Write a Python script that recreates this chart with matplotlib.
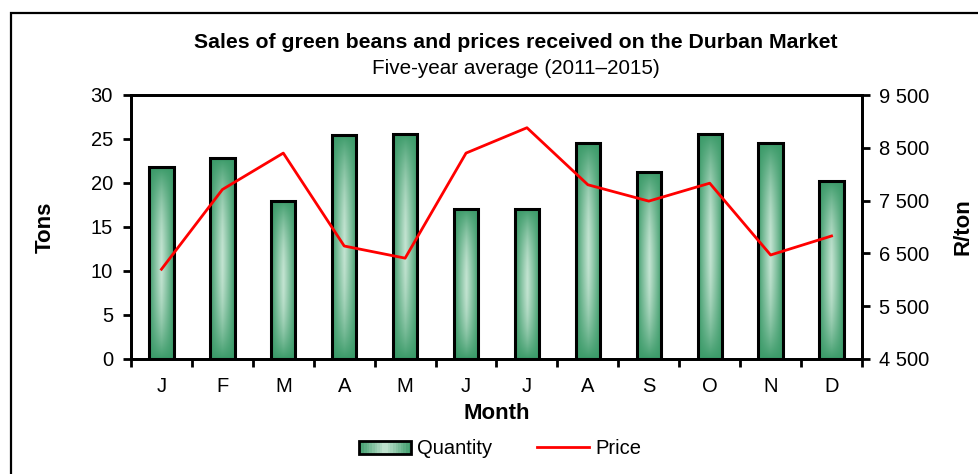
import numpy as np
import matplotlib
matplotlib.use("Agg")
import matplotlib.pyplot as plt
from matplotlib.patches import Rectangle
from matplotlib.lines import Line2D
from matplotlib.legend_handler import HandlerBase
from matplotlib.colors import LinearSegmentedColormap

plt.rcParams["font.family"] = ["Liberation Sans", "DejaVu Sans"]

months = ["J", "F", "M", "A", "M", "J", "J", "A", "S", "O", "N", "D"]
quantity = [21.8, 22.8, 18.0, 25.5, 25.6, 17.1, 17.1, 24.5, 21.3, 25.6, 24.5, 20.2]
price = [6200, 7710, 8400, 6640, 6410, 8400, 8880, 7800, 7490, 7830, 6470, 6830]
tons_ticks = [0, 5, 10, 15, 20, 25, 30]
price_ticks = [4500, 5500, 6500, 7500, 8500, 9500]
price_labels = ["4 500", "5 500", "6 500", "7 500", "8 500", "9 500"]

DARK = "#3a9a68"
LIGHT = "#c4e4d2"
cmap = LinearSegmentedColormap.from_list("beans", [DARK, LIGHT])


def bar_gradient(n=64):
    gx = 1 - np.abs(np.linspace(-1, 1, n))
    gy = 1 - np.abs(np.linspace(-1, 1, 4 * n)) ** 2
    return np.outer(gy, gx) ** 0.9


class GradientHandler(HandlerBase):
    def create_artists(self, legend, orig_handle, xdescent, ydescent, width, height, fontsize, trans):
        h = height * 0.95
        y0 = -ydescent + (height - h) / 2
        steps = 20
        parts = []
        for i in range(steps):
            t = 1 - abs((i + 0.5) / steps * 2 - 1)
            parts.append(Rectangle((-xdescent + width * i / steps, y0), width / steps, h,
                                   facecolor=cmap(t), edgecolor="none", transform=trans))
        parts.append(Rectangle((-xdescent, y0), width, h, facecolor="none",
                               edgecolor="black", lw=2, transform=trans))
        return parts


fig = plt.figure(figsize=(9.79, 4.74), dpi=100)
ax = fig.add_axes([131 / 979, 1 - 359 / 474, (862 - 131) / 979, (359 - 95) / 474])

x = np.arange(len(months))
width = 0.4
grad = bar_gradient()
for xi, q in zip(x, quantity):
    ax.imshow(grad, extent=[xi - width / 2, xi + width / 2, 0, q], aspect="auto",
              cmap=cmap, vmin=0, vmax=1, zorder=2, interpolation="bilinear")
bars = ax.bar(x, quantity, width, facecolor="none", edgecolor="black", linewidth=2.2, zorder=3)

ax.set_xlim(-0.5, len(months) - 0.5)
ax.set_ylim(0, 30)
ax.set_yticks(tons_ticks)
ax.set_xticks(x)
ax.set_xticklabels(months)
ax.set_xticks(np.arange(-0.5, len(months)), minor=True)
ax.tick_params(axis="x", which="major", length=0, labelsize=14.5, pad=13)
ax.tick_params(axis="x", which="minor", length=6, width=2, direction="out")
ax.tick_params(axis="y", length=6, width=2, direction="out", labelsize=14.5, pad=7)
for s in ax.spines.values():
    s.set_linewidth(2)
ax.set_ylabel("Tons", fontsize=16, fontweight="bold", labelpad=25)
ax.set_xlabel("Month", fontsize=16, fontweight="bold", labelpad=5)

ax2 = ax.twinx()
ax2.plot(x, price, color="red", lw=2, zorder=4)
ax2.set_ylim(4500, 9500)
ax2.set_yticks(price_ticks)
ax2.set_yticklabels(price_labels)
ax2.tick_params(axis="y", length=6, width=2, direction="out", labelsize=14.5, pad=6)
for s in ax2.spines.values():
    s.set_linewidth(2)
ax2.set_ylabel("R/ton", fontsize=16, fontweight="bold", labelpad=17)

fig.text(516 / 979, 1 - 43 / 474, "Sales of green beans and prices received on the Durban Market",
         ha="center", va="center", fontsize=15.3, fontweight="bold")
fig.text(516 / 979, 1 - 68 / 474, "Five-year average (2011\u20132015)",
         ha="center", va="center", fontsize=14.9)

qty_handle = Rectangle((0, 0), 1, 1)
price_handle = Line2D([], [], color="red", lw=2)
fig.legend([qty_handle, price_handle], ["Quantity", "Price"],
           handler_map={Rectangle: GradientHandler()},
           loc="center", bbox_to_anchor=(500 / 979, 1 - 449 / 474), ncol=2,
           frameon=False, fontsize=14.5, handlelength=2.6, handletextpad=0.3,
           columnspacing=2.2)

fig.add_artist(Rectangle((11 / 979, -0.05), 1.2, (474 - 13) / 474 + 0.05,
                         transform=fig.transFigure, facecolor="none",
                         edgecolor="black", lw=1.6))

fig.savefig("out.png", dpi=100)
